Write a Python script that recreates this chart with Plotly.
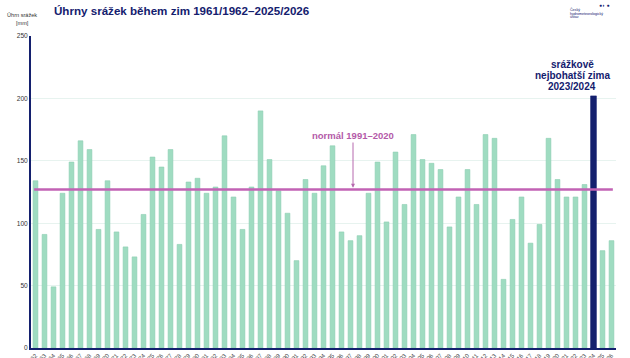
import plotly.graph_objects as go

# ---- data ----
start_years = list(range(1961, 2026))
winters = [f"{y}/{y+1}" for y in start_years]
precip_mm = [134, 91, 49, 124, 149, 166, 159, 95, 134, 93,
             81, 73, 107, 153, 145, 159, 83, 133, 136, 124,
             129, 170, 121, 95, 129, 190, 151, 126, 108, 70,
             135, 124, 146, 162, 93, 86, 90, 124, 149, 101,
             157, 115, 171, 151, 148, 143, 97, 121, 143, 115,
             171, 168, 55, 103, 121, 84, 99, 168, 135, 121,
             121, 131, 202, 78, 86]
normal_1991_2020 = 127
record_winter = "2023/2024"
y_ticks = [0, 50, 100, 150, 200, 250]

# ---- style ----
GREEN = "#9fdcc1"
GREEN_EDGE = "#8dcfb2"
NAVY = "#14206e"
PINK = "#c262b4"
FONT = "Arial, Liberation Sans, sans-serif"

W, H = 630, 358
# plot area in page pixels: x 31..616, y 36..348
L, R, T, B = 31, W - 616, 36, H - 348
PW, PH = W - L - R, H - T - B


def px(x, y):
    """page pixel -> paper coords"""
    return (x - L) / PW, (H - B - y) / PH


def val(y):
    """page pixel y -> data value"""
    return (348 - y) * 250 / (348 - 36)


def idx(x):
    """page pixel x -> category position"""
    return (x - 31) / ((616 - 31) / 65) - 0.5


colors = [NAVY if w == record_winter else GREEN for w in winters]
edges = [NAVY if w == record_winter else GREEN_EDGE for w in winters]
widths = [0.64 if w == record_winter else 0.53 for w in winters]

fig = go.Figure()
fig.add_trace(go.Bar(
    x=winters, y=precip_mm,
    marker=dict(color=colors, line=dict(color=edges, width=0.6)),
    width=widths,
    hoverinfo="x+y",
))

# normal line
fig.add_shape(type="line", xref="x", yref="y",
              x0=-0.15, x1=len(winters) - 1 + 0.15,
              y0=normal_1991_2020, y1=normal_1991_2020,
              line=dict(color=PINK, width=2.6), layer="above")

ann = []
# title
tx, ty = px(52, 10)
ann.append(dict(xref="paper", yref="paper", x=tx, y=ty, xanchor="left", yanchor="middle",
                text="<b>Úhrny srážek během zim 1961/1962–2025/2026</b>", showarrow=False,
                font=dict(size=11.6, color=NAVY, family=FONT)))
# y axis title
for txt, yy in [("Úhrn srážek", 15), ("[mm]", 23)]:
    ax_, ay_ = px(22, yy)
    ann.append(dict(xref="paper", yref="paper", x=ax_, y=ay_, xanchor="center", yanchor="middle",
                    text=txt, showarrow=False, font=dict(size=5.6, color="#333", family=FONT)))
# logo
lx, ly = px(604, 5)
ann.append(dict(xref="paper", yref="paper", x=lx, y=ly, xanchor="center", yanchor="middle",
                text="●◗ ●", showarrow=False, font=dict(size=5, color=NAVY, family=FONT)))
for txt, yy in [("Český", 9.5), ("hydrometeorologický", 13.5), ("ústav", 17.5)]:
    gx, gy = px(568, yy)
    ann.append(dict(xref="paper", yref="paper", x=gx, y=gy, xanchor="left", yanchor="middle",
                    text=txt, showarrow=False, font=dict(size=3.6, color=NAVY, family=FONT)))

# normal annotation
nx = idx(353)
ann.append(dict(xref="x", yref="y", x=nx, y=val(135), xanchor="center", yanchor="middle",
                text="<b>normál 1991–2020</b>", showarrow=False,
                font=dict(size=9.5, color="#b45aa8", family=FONT)))
ann.append(dict(xref="x", yref="y", x=nx, y=normal_1991_2020 + 1.5, ax=nx, ay=val(141),
                axref="x", ayref="y", text="", showarrow=True, arrowhead=2, arrowsize=0.8,
                arrowwidth=1, arrowcolor="#b668ae"))

# record annotation
rx = idx(572)
for txt, yy in [("srážkově", 64), ("nejbohatší zima", 75), ("2023/2024", 86)]:
    ann.append(dict(xref="x", yref="y", x=rx, y=val(yy), xanchor="center", yanchor="middle",
                    text=f"<b>{txt}</b>", showarrow=False,
                    font=dict(size=10, color=NAVY, family=FONT)))

fig.update_layout(
    width=W, height=H,
    margin=dict(l=L, r=R, t=T, b=B),
    paper_bgcolor="white", plot_bgcolor="white",
    showlegend=False,
    bargap=0.45,
    font=dict(family=FONT),
    annotations=ann,
    xaxis=dict(
        type="category", range=[-0.5, len(winters) - 0.5],
        showline=True, linecolor=NAVY, linewidth=1.5,
        showgrid=False, ticks="", tickangle=-45,
        tickfont=dict(size=6, color="#444", family=FONT),
        automargin=False,
    ),
    yaxis=dict(
        range=[0, 250], tickvals=y_ticks,
        showline=True, linecolor=NAVY, linewidth=1.8,
        showgrid=True, gridcolor="#e7f3ef", gridwidth=1,
        zeroline=False, ticks="",
        tickfont=dict(size=6.6, color="#333", family=FONT),
        automargin=False,
    ),
)

fig.write_html(
    "out.html",
    config={"displayModeBar": False},
    post_script="document.body.style.margin='0';document.body.style.overflow='hidden';",
)
